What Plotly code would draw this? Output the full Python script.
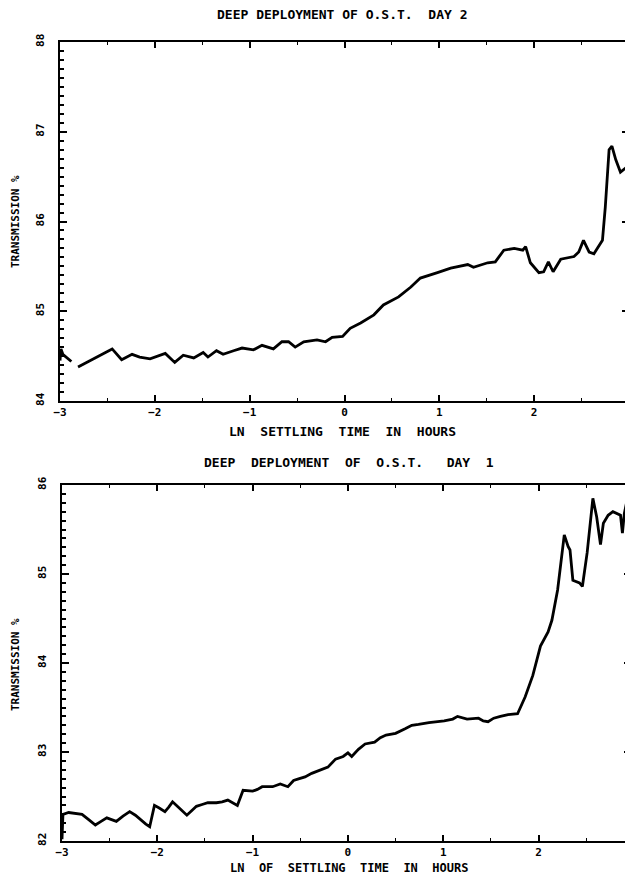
import plotly.graph_objects as go

# ---- Day 2 (top panel) ----
day2_x = [-3.0, -2.99, -2.97, -2.95, -2.92, -2.88, None,
          -2.81, -2.63, -2.45, -2.35, -2.24, -2.16, -2.05, -1.89, -1.79, -1.70, -1.59,
          -1.49, -1.44, -1.35, -1.28, -1.17, -1.08, -0.96, -0.87, -0.75, -0.66, -0.59,
          -0.52, -0.43, -0.29, -0.20, -0.13, -0.02, 0.06, 0.17, 0.31, 0.41, 0.57, 0.70,
          0.80, 0.98, 1.12, 1.30, 1.36, 1.51, 1.59, 1.68, 1.79, 1.88, 1.91, 1.96, 2.05,
          2.10, 2.15, 2.20, 2.28, 2.42, 2.47, 2.52, 2.58, 2.63, 2.72, 2.75, 2.79, 2.82,
          2.86, 2.91, 2.97, 2.99, 3.0]
day2_y = [84.45, 84.58, 84.52, 84.50, 84.48, 84.44, None,
          84.38, 84.48, 84.58, 84.46, 84.52, 84.49, 84.47, 84.53, 84.43, 84.51, 84.48,
          84.54, 84.49, 84.56, 84.52, 84.56, 84.59, 84.57, 84.62, 84.58, 84.66, 84.66,
          84.60, 84.66, 84.68, 84.66, 84.71, 84.72, 84.81, 84.87, 84.96, 85.07, 85.16, 85.27,
          85.37, 85.43, 85.48, 85.52, 85.49, 85.54, 85.55, 85.68, 85.70, 85.68, 85.72, 85.54, 85.43,
          85.44, 85.55, 85.44, 85.58, 85.61, 85.66, 85.79, 85.66, 85.64, 85.79, 86.16, 86.80, 86.84,
          86.69, 86.55, 86.60, 86.71, 86.57]

# ---- Day 1 (bottom panel) ----
day1_x = [-3.0, -2.99, -2.93, -2.86, -2.79, -2.72, -2.65, -2.59, -2.53, -2.48, -2.43, -2.36,
          -2.29, -2.23, -2.18, -2.12, -2.08, -2.06, -2.03, -1.98, -1.92, -1.88, -1.84, -1.77,
          -1.69, -1.64, -1.59, -1.53, -1.47, -1.38, -1.32, -1.26, -1.21, -1.16, -1.10, -1.0,
          -0.95, -0.90, -0.79, -0.71, -0.63, -0.57, -0.51, -0.45, -0.38, -0.30, -0.21, -0.13,
          -0.05, 0.0, 0.04, 0.11, 0.18, 0.28, 0.34, 0.40, 0.50, 0.60, 0.67, 0.74, 0.85, 1.01,
          1.10, 1.15, 1.25, 1.37, 1.42, 1.47, 1.53, 1.60, 1.68, 1.78, 1.86, 1.94, 2.02, 2.10,
          2.14, 2.20, 2.24, 2.27, 2.31, 2.33, 2.36, 2.43, 2.46, 2.51, 2.57, 2.61, 2.65, 2.68,
          2.73, 2.78, 2.86, 2.88, 2.90, 2.94, 2.96]
day1_y = [82.02, 82.30, 82.32, 82.31, 82.30, 82.24, 82.18, 82.22, 82.26, 82.24, 82.22, 82.28,
          82.33, 82.29, 82.24, 82.19, 82.16, 82.26, 82.40, 82.37, 82.33, 82.38, 82.44, 82.37,
          82.29, 82.34, 82.39, 82.41, 82.43, 82.43, 82.44, 82.46, 82.43, 82.40, 82.57, 82.56,
          82.58, 82.61, 82.61, 82.64, 82.61, 82.68, 82.70, 82.72, 82.76, 82.79, 82.83, 82.92,
          82.95, 82.99, 82.95, 83.03, 83.09, 83.11, 83.16, 83.19, 83.21, 83.26, 83.30, 83.31, 83.33, 83.35,
          83.37, 83.40, 83.37, 83.38, 83.35, 83.34, 83.38, 83.40, 83.42, 83.43, 83.62, 83.86, 84.19, 84.35,
          84.48, 84.82, 85.14, 85.44, 85.31, 85.27, 84.93, 84.90, 84.86, 85.24, 85.85, 85.64, 85.33, 85.57,
          85.66, 85.70, 85.66, 85.46, 85.68, 85.89, 85.61]

title_top = "DEEP DEPLOYMENT OF O.S.T.  DAY 2"
title_bot = "DEEP  DEPLOYMENT  OF  O.S.T.   DAY  1"
xlabel_top = "LN  SETTLING  TIME  IN  HOURS"
xlabel_bot = "LN  OF  SETTLING  TIME  IN  HOURS"
ylabel = "TRANSMISSION %"

FONT = "DejaVu Sans Mono"
OFF = 8                      # page body margin of the html page
W, H = 633 - OFF, 880 - OFF

def px(v):
    return (v - OFF) / W

def py(v):
    return 1 - (v - OFF) / H

fig = go.Figure()
fig.add_trace(go.Scatter(x=day2_x, y=day2_y, mode="lines", line=dict(color="black", width=2.8),
                         xaxis="x", yaxis="y", showlegend=False, connectgaps=False))
fig.add_trace(go.Scatter(x=day1_x, y=day1_y, mode="lines", line=dict(color="black", width=2.8),
                         xaxis="x2", yaxis="y2", showlegend=False))

def xax(domain, rng, anchor):
    return dict(domain=domain, range=rng, anchor=anchor, automargin=False,
                showgrid=False, zeroline=False,
                showline=True, linecolor="black", linewidth=2, mirror="ticks",
                ticks="inside", ticklen=6, tickwidth=1.5, tickcolor="black",
                tickmode="linear", tick0=-3, dtick=1,
                minor=dict(tickmode="linear", tick0=-3, dtick=0.5, ticklen=3, ticks="inside",
                           tickcolor="black", tickwidth=1.2),
                tickfont=dict(family=FONT, size=11, color="black", weight="bold"))

def yax(domain, rng, anchor):
    return dict(domain=domain, range=rng, anchor=anchor, automargin=False,
                showgrid=False, zeroline=False,
                showline=True, linecolor="black", linewidth=2, mirror="ticks",
                ticks="inside", ticklen=7, tickwidth=1.5, tickcolor="black",
                tickmode="linear", tick0=rng[0], dtick=1, tickangle=-90,
                ticklabelstandoff=10,
                minor=dict(tickmode="linear", tick0=rng[0], dtick=0.1, ticklen=4, ticks="inside",
                           tickcolor="black", tickwidth=1.5),
                tickfont=dict(family=FONT, size=11, color="black", weight="bold"))

fig.update_layout(
    width=W, height=H, margin=dict(l=0, r=0, t=0, b=0, autoexpand=False),
    paper_bgcolor="white", plot_bgcolor="white",
    xaxis=xax([px(60), px(629)], [-3, 3], "y"),
    yaxis=yax([py(401), py(42)], [84, 88], "x"),
    xaxis2=xax([px(62), px(631)], [-3, 2.97], "y2"),
    yaxis2=yax([py(841), py(485)], [82, 86], "x2"),
)

def ann(text, x, y, size=13, angle=0):
    fig.add_annotation(text=text, x=px(x), y=py(y), xref="paper", yref="paper",
                       showarrow=False, textangle=angle, xanchor="center", yanchor="middle",
                       font=dict(family=FONT, size=size, color="black", weight="bold"))

ann(title_top, 342, 15)
ann(title_bot, 349, 462)
ann(xlabel_top, 342, 431, size=13)
ann(xlabel_bot, 349, 868, size=12)
ann(ylabel, 15, 222, size=11, angle=-90)
ann(ylabel, 15, 665, size=11, angle=-90)

fig.write_html("out.html")
